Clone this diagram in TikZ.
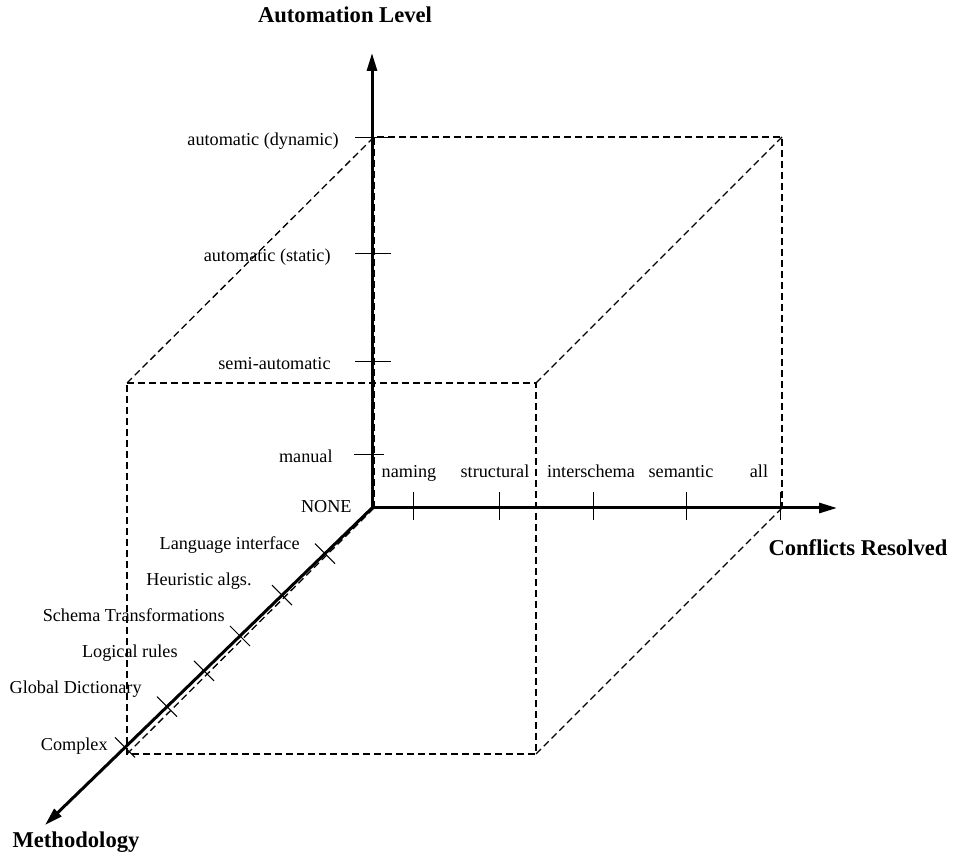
\documentclass[tikz,border=0pt]{standalone}
\usepackage{fontspec}
\setmainfont{Liberation Serif}
\usepackage{tikz}
\usetikzlibrary{arrows.meta}
\usetikzlibrary{positioning}
\tikzset{
  axis/.style = {line width=1.5pt, -{Triangle[length=9pt,width=5pt]}},
  tick/.style = {line width=0.5pt},
  box/.style = {line width=0.65pt, dash pattern=on 3.5pt off 2pt},
  lbl/.style = {inner sep=0pt, font=\fontsize{9.1}{11}\selectfont},% valeurs des axes
  ttl/.style = {inner sep=0pt, font=\fontsize{11.3}{13}\selectfont\bfseries}% titres des axes
}

\begin{document}
\begin{tikzpicture}[x=0.5pt,y=-0.5pt]
\useasboundingbox (0,0) rectangle (955,861);

\coordinate (O) at (372,508);
\coordinate (al) at (372,53);
\coordinate (cr) at (837,508);
\coordinate (me) at (45,825);

% le cube en pointilles
\coordinate (b1) at (374,137);
\coordinate (b2) at (782,137);
\coordinate (b3) at (782,508);
\coordinate (b4) at (374,508);
\coordinate (f1) at (127,383);
\coordinate (f2) at (536,383);
\coordinate (f3) at (536,754);
\coordinate (f4) at (127,754);

\draw[box] (f1) -- (f2) -- (f3) -- (f4) -- cycle;
\draw[box] (b4) -- (b1) -- (b2) -- (b3);
\draw[box] (f1) -- (b1);
\draw[box] (f2) -- (b2);
\draw[box] (f3) -- (b3);
\draw[box] (f4) -- (b4);

% les axes
\draw[axis] (O) -- (al);
\draw[axis] (O) -- (cr);
\draw[axis] (O) -- (me);

\node[ttl, anchor=base] (alt) at (345,23) {Automation Level};
\node[ttl, anchor=base] (crt) at (858,556) {Conflicts Resolved};
\node[ttl, anchor=base] (met) at (76,848) {Methodology};

% Automation Level
\coordinate (a1) at (372,455);
\coordinate (a2) at (372,362);
\coordinate (a3) at (372,254);
\coordinate (a4) at (372,138);
\draw[tick] ([xshift=-9pt]a1) -- ([xshift=6pt]a1);
\draw[tick] ([xshift=-8.5pt]a2) -- ([xshift=9.5pt]a2);
\draw[tick] ([xshift=-8.5pt]a3) -- ([xshift=9.5pt]a3);
\draw[tick] ([xshift=-8.5pt]a4) -- ([xshift=9.5pt]a4);
\node[lbl, anchor=base east] (am) at (333,463) {manual};
\node[lbl, anchor=base east] (as) at (331,370) {semi-automatic};
\node[lbl, anchor=base east] (ast) at (331,262) {automatic (static)};
\node[lbl, anchor=base east] (ad) at (339,146) {automatic (dynamic)};

% Conflicts Resolved
\coordinate (c1) at (413,508);
\coordinate (c2) at (499,508);
\coordinate (c3) at (593,508);
\coordinate (c4) at (686,508);
\coordinate (c5) at (780,508);
\draw[tick] ([yshift=8pt]c1) -- ([yshift=-6pt]c1);
\draw[tick] ([yshift=8pt]c2) -- ([yshift=-6pt]c2);
\draw[tick] ([yshift=8pt]c3) -- ([yshift=-6pt]c3);
\draw[tick] ([yshift=8pt]c4) -- ([yshift=-6pt]c4);
\draw[tick] ([yshift=8pt]c5) -- ([yshift=-6pt]c5);
\node[lbl, anchor=base] (cn) at (409,478) {naming};
\node[lbl, anchor=base] (cs) at (495,478) {structural};
\node[lbl, anchor=base] (ci) at (591,478) {interschema};
\node[lbl, anchor=base] (cm) at (681,478) {semantic};
\node[lbl, anchor=base] (ca) at (759,478) {all};

% Methodology
\coordinate (m1) at (325,553.6);
\coordinate (m2) at (282,595.2);
\coordinate (m3) at (240,636);
\coordinate (m4) at (204,670.8);
\coordinate (m5) at (167,706.7);
\coordinate (m6) at (125,747.4);
\draw[tick] ([shift={(-10,-10)}]m1) -- ([shift={(10,10)}]m1);
\draw[tick] ([shift={(-10,-10)}]m2) -- ([shift={(10,10)}]m2);
\draw[tick] ([shift={(-10,-10)}]m3) -- ([shift={(10,10)}]m3);
\draw[tick] ([shift={(-10,-10)}]m4) -- ([shift={(10,10)}]m4);
\draw[tick] ([shift={(-10,-10)}]m5) -- ([shift={(10,10)}]m5);
\draw[tick] ([shift={(-10,-10)}]m6) -- ([shift={(10,10)}]m6);
\node[lbl, anchor=base east] (mn) at (352,513) {NONE};
\node[lbl, anchor=base east] (ml) at (300,550) {Language interface};
\node[lbl, anchor=base east] (mh) at (252,586) {Heuristic algs.};
\node[lbl, anchor=base east] (ms) at (225,622) {Schema Transformations};
\node[lbl, anchor=base east] (mr) at (178,658) {Logical rules};
\node[lbl, anchor=base east] (mg) at (142,694) {Global Dictionary};
\node[lbl, anchor=base east] (mc) at (108,751) {Complex};
\end{tikzpicture}
\end{document}
